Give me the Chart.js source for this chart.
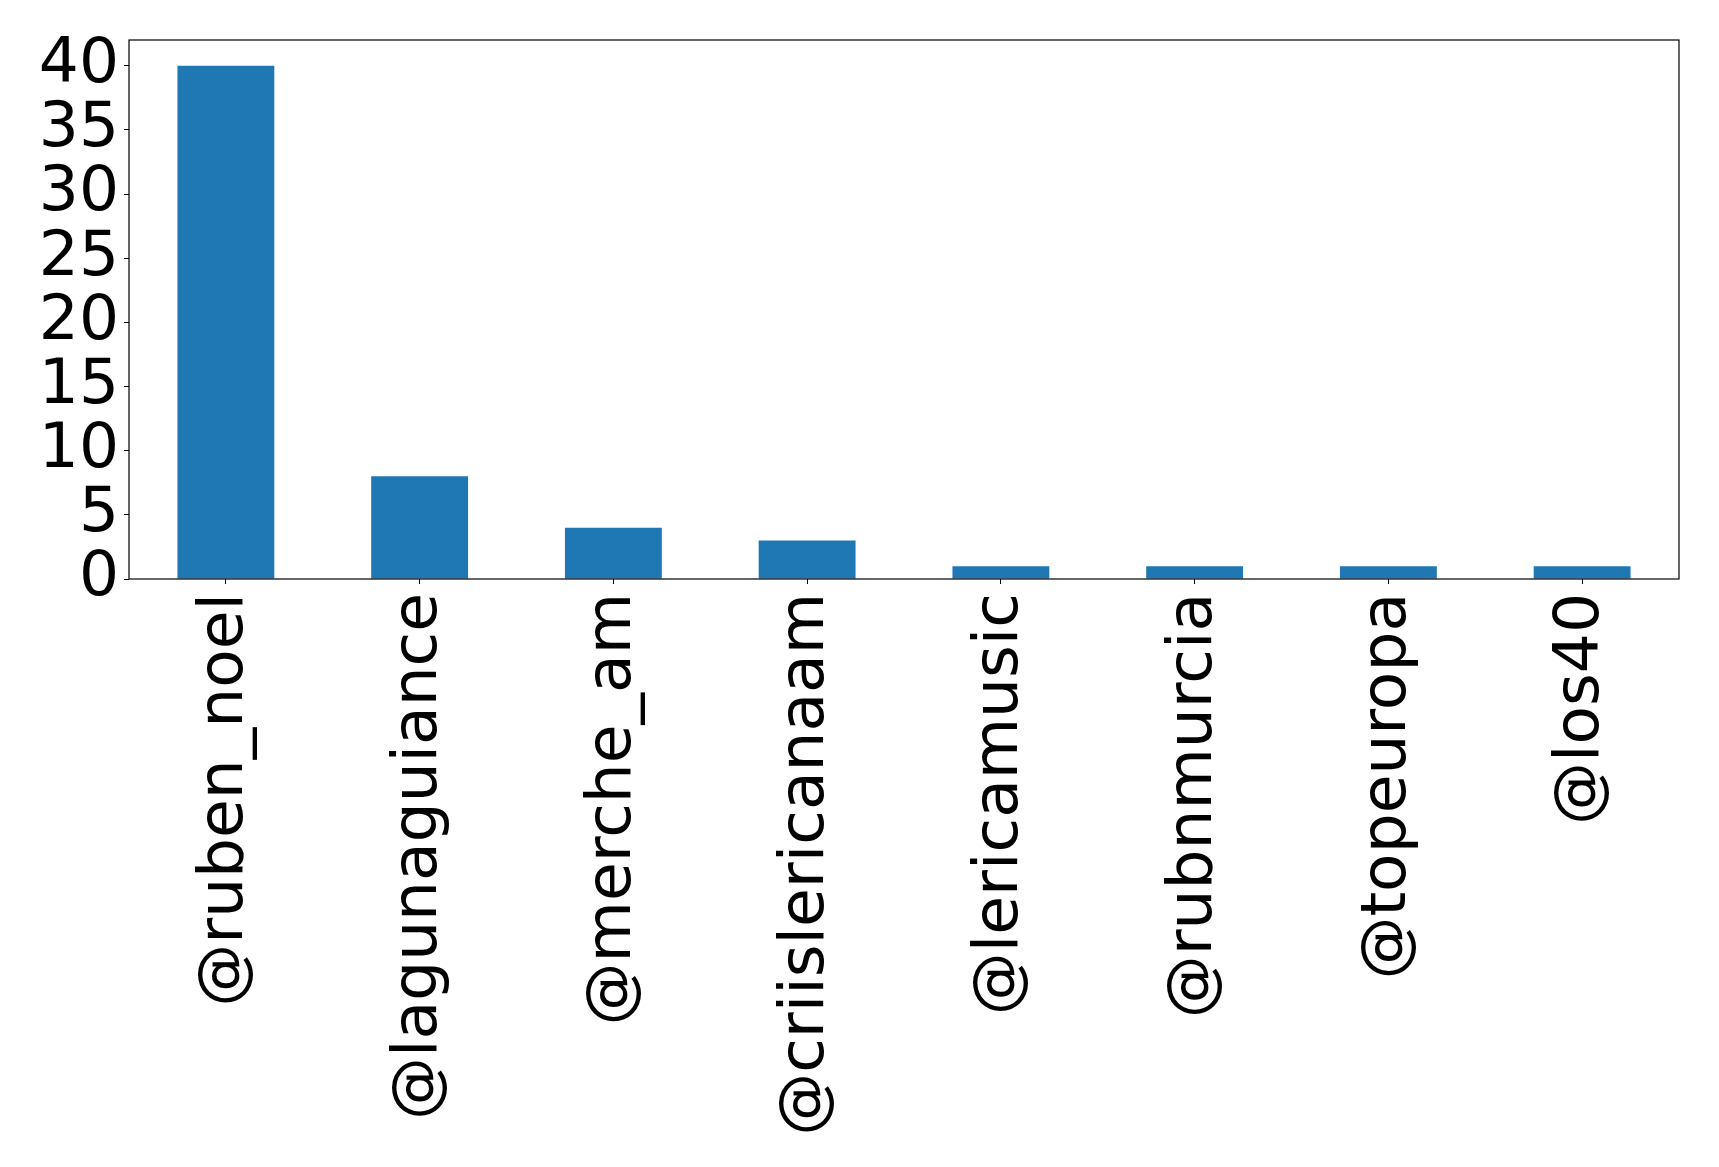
<!DOCTYPE html>
<html>
<head>
<meta charset="utf-8">
<script src="https://cdn.jsdelivr.net/npm/chart.js@4"></script>
<style>
  html, body { margin: 0; padding: 0; background: #fff; }
  #wrap { width: 1719px; height: 1167px; }
</style>
</head>
<body>
<div id="wrap"><canvas id="chart" width="1719" height="1167"></canvas></div>
<script>
// data
const users = ['@ruben_noel', '@lagunaguiance', '@merche_am', '@criislericanaam',
  '@lericamusic', '@rubnmurcia', '@topeuropa', '@los40'];
const counts = [40, 8, 4, 3, 1, 1, 1, 1];
const yTicks = [0, 5, 10, 15, 20, 25, 30, 35, 40];

const font = { family: 'DejaVu Sans', size: 63 };

// matplotlib-like box around the plot
const frame = {
  id: 'frame',
  afterDatasetsDraw(chart) {
    const a = chart.chartArea;
    const c = chart.ctx;
    c.save();
    c.strokeStyle = '#000';
    c.lineWidth = 1.2;
    c.strokeRect(a.left, a.top, a.right - a.left, a.bottom - a.top);
    c.restore();
  }
};

new Chart(document.getElementById('chart'), {
  type: 'bar',
  data: {
    labels: users,
    datasets: [{
      data: counts,
      backgroundColor: '#1f77b4',
      barPercentage: 0.5,
      categoryPercentage: 1.0
    }]
  },
  options: {
    responsive: false,
    animation: false,
    layout: { padding: { top: 40, right: 40, left: 0, bottom: 0 } },
    plugins: { legend: { display: false }, tooltip: { enabled: false } },
    scales: {
      x: {
        offset: true,
        grid: { display: true, offset: false, drawOnChartArea: false, drawTicks: true, tickLength: 5, color: '#000' },
        border: { display: false },
        ticks: { color: '#000', font: font, minRotation: 90, maxRotation: 90, autoSkip: false, padding: 9 },
        afterFit(scale) { scale.height = 588; }
      },
      y: {
        min: 0,
        max: 42,
        grid: { display: true, drawOnChartArea: false, drawTicks: true, tickLength: 5, color: '#000' },
        border: { display: false },
        ticks: { color: '#000', font: { family: 'DejaVu Sans', size: 63, lineHeight: 0.9 }, padding: 5, autoSkip: false },
        afterBuildTicks(scale) { scale.ticks = yTicks.map(v => ({ value: v })); },
        afterFit(scale) { scale.width = 129; scale.paddingTop = 0; }
      }
    }
  },
  plugins: [frame]
});
</script>
</body>
</html>
